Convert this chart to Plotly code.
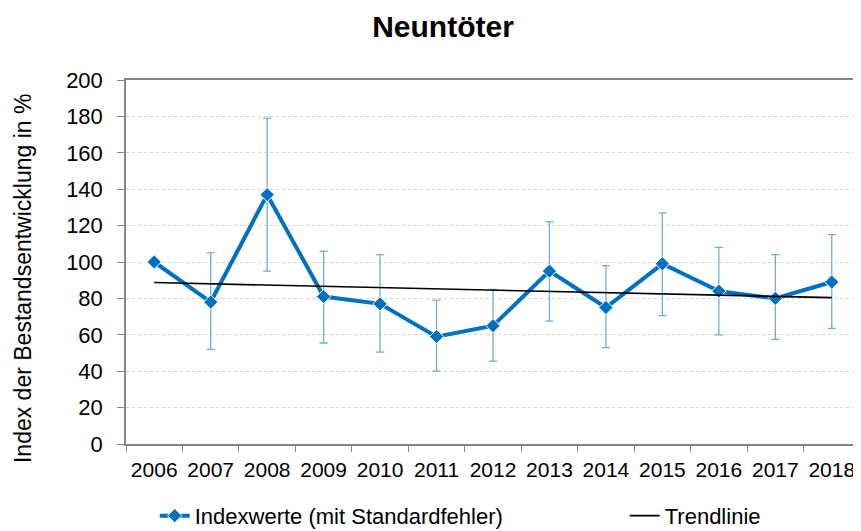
import plotly.graph_objects as go

years = ["2006", "2007", "2008", "2009", "2010", "2011", "2012",
         "2013", "2014", "2015", "2016", "2017", "2018"]
index_values = [100, 78, 137, 81, 77, 59, 65, 95, 75, 99, 84, 80, 89]
err_upper = [0, 105, 179, 106, 104, 79, 85, 122, 98, 127, 108, 104, 115]
err_lower = [100, 52, 95, 55.5, 50.5, 40, 45.5, 67.5, 53, 70.5, 60, 57.5, 63.5]
trend_years = ["2006", "2018"]
trend_values = [88.7, 80.4]

plus = [max(u - v, 0) for u, v in zip(err_upper, index_values)]
minus = [max(v - l, 0) for v, l in zip(index_values, err_lower)]

FONT = "Liberation Sans, Arial, sans-serif"
BLUE = "#0070C0"
ERR = "#6AAEDD"
AX = "#868686"

fig = go.Figure()
fig.add_trace(go.Scatter(
    x=years, y=index_values, mode="lines+markers",
    name="Indexwerte (mit Standardfehler)", legend="legend",
    line=dict(color=BLUE, width=4),
    marker=dict(symbol="diamond", size=11, color=BLUE, line=dict(color="white", width=1)),
    error_y=dict(type="data", symmetric=False, array=plus, arrayminus=minus,
                 color=ERR, thickness=1.3, width=4),
))
fig.add_trace(go.Scatter(
    x=trend_years, y=trend_values, mode="lines", name="Trendlinie", legend="legend2",
    line=dict(color="black", width=1.6),
))

legend_common = dict(orientation="h", xref="container", yref="container",
                     xanchor="left", y=0.029, yanchor="middle",
                     font=dict(family=FONT, size=22, color="black"),
                     bgcolor="rgba(0,0,0,0)")

fig.update_layout(
    width=853, height=523,
    margin=dict(l=118, r=1, t=72, b=87, autoexpand=False),
    paper_bgcolor="white", plot_bgcolor="white",
    font=dict(family=FONT, size=21, color="black"),
    title=dict(text="<b>Neuntöter</b>", xref="container", yref="container",
               x=0.51, xanchor="center", y=0.964, yanchor="middle",
               font=dict(family=FONT, size=30, color="black")),
    showlegend=True,
    legend=dict(x=0.172, **legend_common),
    legend2=dict(x=0.723, **legend_common),
    annotations=[dict(text="Index der Bestandsentwicklung in %", xref="paper", yref="paper",
                      x=-0.1403, y=0.456, xanchor="center", yanchor="middle",
                      textangle=-90, showarrow=False,
                      font=dict(family=FONT, size=23, color="black"))],
)
fig.update_xaxes(
    type="category", categoryorder="array", categoryarray=years, automargin=False,
    range=[-0.5, 12.5], showgrid=False, showline=True, linecolor=AX, linewidth=1.5,
    mirror=True, ticks="outside", ticklen=6, tickcolor=AX, tickwidth=1.2,
    tickson="boundaries", ticklabelstandoff=6,
    tickfont=dict(family=FONT, size=21, color="black"),
)
fig.update_yaxes(
    range=[0, 200], dtick=20, showgrid=True, gridcolor="#d4d4d4", griddash="dot", gridwidth=1.3,
    showline=True, linecolor=AX, linewidth=1.5, mirror=True, automargin=False,
    ticks="outside", ticklen=7, tickcolor=AX, tickwidth=1.2, zeroline=False,
    ticklabelstandoff=10,
    tickfont=dict(family=FONT, size=22, color="black"),
)

fig.write_html("out.html")
